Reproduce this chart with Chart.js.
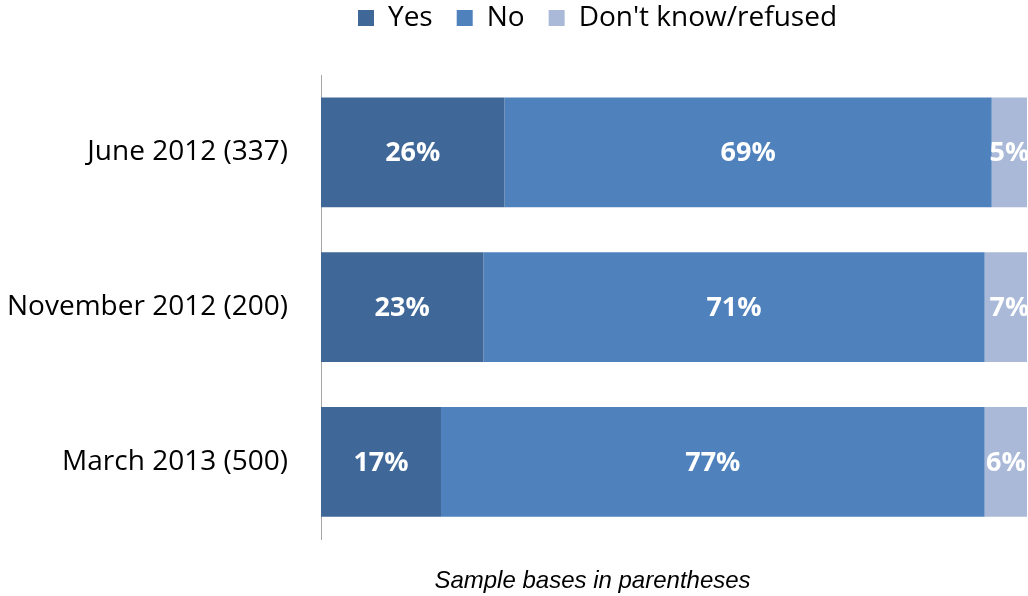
<!DOCTYPE html>
<html>
<head>
<meta charset="utf-8">
<script src="https://cdn.jsdelivr.net/npm/chart.js@4.4.1/dist/chart.umd.min.js"></script>
<style>
  html, body { margin: 0; padding: 0; background: #fff; }
  #wrap { width: 1028px; height: 596px; position: relative; }
</style>
</head>
<body>
<div id="wrap"><canvas id="chart"></canvas></div>
<script>
// survey waves (sample base in parentheses)
const waves = ['June 2012 (337)', 'November 2012 (200)', 'March 2013 (500)'];
const yesPct = [26, 23, 17];
const noPct = [69, 71, 77];
const dkPct = [5, 7, 6];

const labelFont = "'Open Sans', 'Noto Sans', sans-serif";

// legend + footnote are centred a bit right of the canvas centre in the original
const shiftBoxes = {
  id: 'shiftBoxes',
  afterLayout(chart) {
    const lg = chart.legend;
    if (lg) {
      lg.left += 84; lg.right += 84;
      lg.top -= 33; lg.bottom -= 33;
    }
    const t = chart.titleBlock;
    if (t) { t.left += 79; t.right += 79; }
  }
};

// white percentage labels in the middle of each segment
const segLabels = {
  id: 'segLabels',
  afterDatasetsDraw(chart) {
    const ctx = chart.ctx;
    ctx.save();
    ctx.fillStyle = '#fff';
    ctx.font = "bold 27px " + labelFont;
    ctx.textAlign = 'center';
    ctx.textBaseline = 'middle';
    chart.data.datasets.forEach((ds, i) => {
      chart.getDatasetMeta(i).data.forEach((bar, j) => {
        const cx = (bar.x + bar.base) / 2;
        ctx.fillText(ds.data[j] + '%', cx, bar.y + 1);
      });
    });
    ctx.restore();
  }
};

new Chart(document.getElementById('chart'), {
  type: 'bar',
  data: {
    labels: waves,
    datasets: [
      { label: 'Yes', data: yesPct, backgroundColor: '#3f6899' },
      { label: 'No', data: noPct, backgroundColor: '#4f81bd' },
      { label: "Don't know/refused", data: dkPct, backgroundColor: '#a9b9d7' }
    ]
  },
  options: {
    indexAxis: 'y',
    responsive: true,
    maintainAspectRatio: false,
    animation: false,
    layout: { padding: { top: 13, right: 1, left: 0, bottom: 0 } },
    datasets: {
      bar: { categoryPercentage: 1, barPercentage: 0.71, borderWidth: 0 }
    },
    plugins: {
      legend: {
        position: 'top',
        labels: {
          boxWidth: 16,
          boxHeight: 16,
          padding: 24,
          color: '#000',
          font: { size: 28, family: labelFont }
        }
      },
      title: {
        display: true,
        position: 'bottom',
        text: 'Sample bases in parentheses',
        color: '#000',
        font: { size: 24, style: 'italic', weight: 'normal', family: "'Liberation Sans', Arial, sans-serif" },
        padding: { top: 28, bottom: 0 }
      },
      tooltip: { enabled: false }
    },
    scales: {
      x: {
        stacked: true,
        min: 0,
        max: 100,
        display: false
      },
      y: {
        stacked: true,
        grid: { display: false },
        border: { display: true, color: '#a6a6a6', width: 1 },
        ticks: {
          color: '#000',
          padding: 25,
          font: { size: 28, family: labelFont }
        },
        afterFit(scale) { scale.width = 321; }
      }
    }
  },
  plugins: [shiftBoxes, segLabels]
});
</script>
</body>
</html>
